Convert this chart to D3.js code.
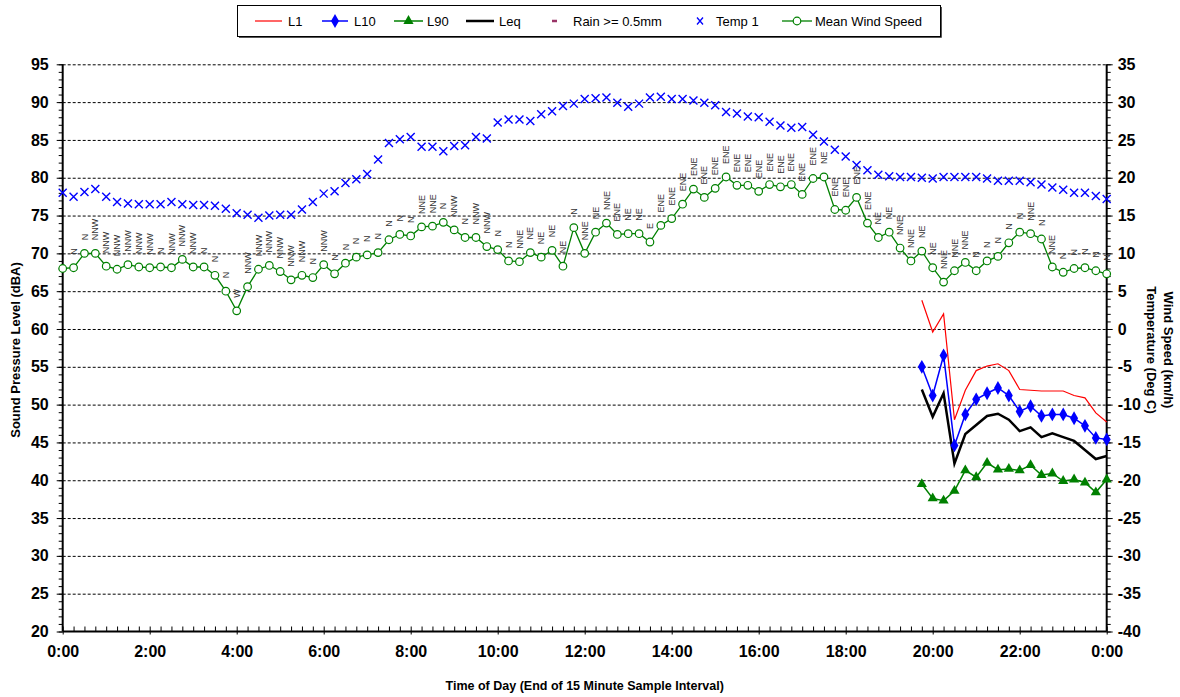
<!DOCTYPE html>
<html>
<head>
<meta charset="utf-8">
<script src="https://cdn.jsdelivr.net/npm/d3@7"></script>
<style>
  body { margin: 0; background: #fff; }
  text { font-family: "Liberation Sans", Arial, sans-serif; }
</style>
</head>
<body>
<svg id="chart" width="1180" height="697"></svg>
<script>
// sample ends, minutes after midnight (every 15 min, 0:00 to 24:00)
const sampleMinutes = d3.range(0, 1441, 15);

// temperature, deg C (right axis)
const temp1 = [
  18.0, 17.5, 18.1, 18.5, 17.5, 16.8, 16.6, 16.5, 16.5, 16.5, 16.8, 16.5, 16.4, 16.4, 16.3, 15.9,
  15.3, 15.1, 14.7, 15.0, 15.1, 15.1, 15.8, 16.8, 17.9, 18.2, 19.3, 19.8, 20.5, 22.4, 24.6, 25.1,
  25.4, 24.1, 24.1, 23.5, 24.2, 24.3, 25.4, 25.2, 27.3, 27.7, 27.7, 27.5, 28.4, 28.8, 29.5, 29.8,
  30.4, 30.5, 30.6, 29.9, 29.4, 29.8, 30.6, 30.7, 30.4, 30.4, 30.2, 29.9, 29.6, 28.7, 28.5, 28.1,
  28.0, 27.4, 26.9, 26.6, 26.7, 25.7, 24.8, 23.7, 22.8, 21.7, 21.0, 20.4, 20.2, 20.1, 20.1, 20.0,
  19.9, 20.1, 20.1, 20.1, 20.1, 19.9, 19.6, 19.6, 19.6, 19.4, 19.1, 18.7, 18.4, 18.0, 18.0, 17.6,
  17.2
];

// mean wind speed, km/h (right axis)
const windSpeed = [
  8.0, 8.1, 10.0, 10.0, 8.3, 7.9, 8.5, 8.2, 8.1, 8.2, 8.1, 9.2, 8.2, 8.2, 7.1, 5.0,
  2.4, 5.6, 7.9, 8.4, 7.6, 6.5, 7.1, 6.8, 8.5, 7.3, 8.7, 9.5, 9.8, 10.1, 11.8, 12.5,
  12.3, 13.5, 13.6, 14.1, 13.1, 12.1, 12.1, 10.9, 10.5, 9.0, 8.9, 10.1, 9.5, 10.4, 8.3, 13.4,
  10.0, 12.8, 14.0, 12.5, 12.6, 12.6, 11.5, 13.7, 14.6, 16.5, 18.5, 17.4, 18.6, 20.1, 19.0, 19.0,
  18.2, 19.1, 18.8, 19.1, 17.8, 19.9, 20.1, 15.8, 15.7, 17.4, 14.0, 12.1, 12.8, 10.7, 9.0, 10.3,
  8.1, 6.2, 7.7, 8.8, 7.7, 9.0, 9.6, 11.4, 12.8, 12.6, 11.9, 8.2, 7.5, 8.0, 8.1, 7.7,
  7.3
];

// wind direction labels
const windDir = [
  "", "N", "N", "NNW", "NNW", "NNW", "NNW", "NNW", "NNW", "N", "NNW", "NNW", "NNW", "N", "N", "N",
  "W", "NNW", "NNW", "NNW", "NNW", "NNW", "NNW", "N", "NNW", "N", "N", "N", "N", "N", "N", "N",
  "N", "NNE", "NNE", "N", "NNW", "N", "NNW", "NNW", "N", "N", "NNE", "NE", "NE", "NE", "NE", "N",
  "NNE", "NE", "NNE", "ENE", "NE", "NE", "E", "ENE", "ENE", "ENE", "ENE", "ENE", "ENE", "ENE", "ENE", "ENE",
  "ENE", "ENE", "ENE", "ENE", "ENE", "ENE", "NE", "ENE", "ENE", "ENE", "ENE", "NE", "NE", "NNE", "NNE", "NE",
  "NE", "NNE", "NNE", "NNE", "N", "N", "N", "N", "N", "NNE", "N", "NNE", "N", "N", "N", "N",
  "N"
];

// noise levels, dBA (left axis) - only logged from 19:45
const noiseStart = 79;
const L1  = [63.8, 59.6, 62.0, 48.0, 51.9, 54.5, 55.1, 55.4, 54.5, 52.0, 51.9, 51.8, 51.8, 51.8, 51.2, 50.9, 48.9, 47.7];
const L10 = [55.0, 51.2, 56.5, 44.6, 48.7, 50.7, 51.5, 52.2, 51.2, 49.1, 49.8, 48.5, 48.7, 48.7, 48.2, 47.2, 45.6, 45.4];
const L90 = [39.5, 37.6, 37.3, 38.6, 41.3, 40.4, 42.3, 41.4, 41.5, 41.3, 42.0, 40.7, 40.9, 39.9, 40.1, 39.7, 38.4, 40.1];
const Leq = [52.0, 48.4, 51.5, 42.2, 46.1, 47.3, 48.5, 48.8, 48.0, 46.5, 47.0, 45.7, 46.2, 45.7, 45.2, 44.0, 42.8, 43.2];

const leftTicks = d3.range(20, 96, 5);
const rightTicks = d3.range(-40, 36, 5);
const timeTicks = d3.range(0, 1441, 120);

const margin = {left: 62.7, right: 1106.7, top: 64.3, bottom: 631.5};
const svg = d3.select("#chart");

const x = d3.scaleLinear([0, 1440], [margin.left, margin.right]);
const yL = d3.scaleLinear([20, 95], [margin.bottom, margin.top]);
const yR = d3.scaleLinear([-40, 35], [margin.bottom, margin.top]);

const boldLabels = g => g.selectAll("text")
  .attr("font-size", 16).attr("font-weight", "bold").attr("fill", "#000");

// gridlines
svg.append("g")
  .attr("transform", `translate(${margin.left},0)`)
  .call(d3.axisLeft(yL).tickValues(d3.range(25, 96, 5)).tickSize(-(margin.right - margin.left)).tickFormat(""))
  .call(g => g.select(".domain").remove())
  .call(g => g.selectAll(".tick line").attr("stroke", "#000").attr("stroke-dasharray", "3,2"));

// left axis
svg.append("g")
  .attr("transform", `translate(${margin.left},0)`)
  .call(d3.axisLeft(yL).tickValues(d3.range(20, 96, 1)).tickSize(4).tickFormat(""))
  .call(g => g.select(".domain").attr("stroke-width", 2).attr("d", `M0,${margin.top}V${margin.bottom}`));
svg.append("g")
  .attr("transform", `translate(${margin.left},0)`)
  .call(d3.axisLeft(yL).tickValues(leftTicks).tickSize(6).tickPadding(8).tickFormat(d => String(d)))
  .call(g => g.select(".domain").remove())
  .call(boldLabels);

// right axis
svg.append("g")
  .attr("transform", `translate(${margin.right},0)`)
  .call(d3.axisRight(yR).tickValues(d3.range(-40, 36, 1)).tickSize(4).tickFormat(""))
  .call(g => g.select(".domain").attr("stroke-width", 2).attr("d", `M0,${margin.top}V${margin.bottom}`));
svg.append("g")
  .attr("transform", `translate(${margin.right},0)`)
  .call(d3.axisRight(yR).tickValues(rightTicks).tickSize(6).tickPadding(5).tickFormat(d => String(d)))
  .call(g => g.select(".domain").remove())
  .call(boldLabels);

// bottom axis, inward minor ticks every 15 min
svg.append("g")
  .attr("transform", `translate(0,${margin.bottom})`)
  .call(d3.axisBottom(x).tickValues(sampleMinutes).tickSize(-5).tickFormat(""))
  .call(g => g.select(".domain").attr("stroke-width", 2).attr("d", `M${margin.left},0H${margin.right}`));
svg.append("g")
  .attr("transform", `translate(0,${margin.bottom})`)
  .call(d3.axisBottom(x).tickValues(timeTicks).tickSize(3).tickPadding(11)
    .tickFormat(m => `${(m / 60) % 24}:00`))
  .call(g => g.select(".domain").remove())
  .call(boldLabels);

// axis titles
svg.append("text")
  .attr("transform", `translate(20,350) rotate(-90)`)
  .attr("text-anchor", "middle").attr("font-size", 13).attr("font-weight", "bold")
  .text("Sound Pressure Level (dBA)");
svg.append("text")
  .attr("transform", `translate(1164,350) rotate(90)`)
  .attr("text-anchor", "middle").attr("font-size", 13).attr("font-weight", "bold")
  .text("Wind Speed (km/h)");
svg.append("text")
  .attr("transform", `translate(1147,350) rotate(90)`)
  .attr("text-anchor", "middle").attr("font-size", 13).attr("font-weight", "bold")
  .text("Temperature (Deg C)");
svg.append("text")
  .attr("x", (margin.left + margin.right) / 2).attr("y", 690)
  .attr("text-anchor", "middle").attr("font-size", 12.5).attr("font-weight", "bold")
  .text("Time of Day (End of 15 Minute Sample Interval)");

// noise series
const noiseRows = (arr) => arr.map((v, k) => ({m: sampleMinutes[noiseStart + k], v}));
const lineL = d3.line().x(d => x(d.m)).y(d => yL(d.v));

svg.append("path").datum(noiseRows(L1)).attr("d", lineL)
  .attr("fill", "none").attr("stroke", "#ff0000").attr("stroke-width", 1.2);
svg.append("path").datum(noiseRows(Leq)).attr("d", lineL)
  .attr("fill", "none").attr("stroke", "#000").attr("stroke-width", 2.5);
svg.append("path").datum(noiseRows(L10)).attr("d", lineL)
  .attr("fill", "none").attr("stroke", "#0000ff").attr("stroke-width", 1.5);
svg.append("path").datum(noiseRows(L90)).attr("d", lineL)
  .attr("fill", "none").attr("stroke", "#008000").attr("stroke-width", 1.5);

svg.append("g").selectAll("path").data(noiseRows(L10)).join("path")
  .attr("transform", d => `translate(${x(d.m)},${yL(d.v)})`)
  .attr("d", d3.symbol(d3.symbolDiamond, 55))
  .attr("fill", "#0000ff");
svg.append("g").selectAll("path").data(noiseRows(L90)).join("path")
  .attr("transform", d => `translate(${x(d.m)},${yL(d.v)})`)
  .attr("d", d3.symbol(d3.symbolTriangle, 45))
  .attr("fill", "#008000");

// temperature crosses
svg.append("g").selectAll("path").data(temp1).join("path")
  .attr("transform", (d, i) => `translate(${x(sampleMinutes[i])},${yR(d)})`)
  .attr("d", "M-4,-4L4,4M-4,4L4,-4")
  .attr("stroke", "#0000ff").attr("stroke-width", 1.4).attr("fill", "none");

// wind speed
svg.append("path").datum(windSpeed)
  .attr("d", d3.line().x((d, i) => x(sampleMinutes[i])).y(d => yR(d)))
  .attr("fill", "none").attr("stroke", "#008000").attr("stroke-width", 1.3);
svg.append("g").selectAll("circle").data(windSpeed).join("circle")
  .attr("cx", (d, i) => x(sampleMinutes[i])).attr("cy", d => yR(d)).attr("r", 3.8)
  .attr("fill", "#fff").attr("stroke", "#008000").attr("stroke-width", 1.2);

// wind direction labels
svg.append("g").selectAll("text").data(windDir).join("text")
  .attr("transform", (d, i) => `translate(${x(sampleMinutes[i])},${yR(windSpeed[i]) - 13}) rotate(-90)`)
  .attr("dy", "0.35em").attr("text-anchor", "start")
  .attr("font-size", 9).attr("fill", "#333")
  .text(d => d);

// legend
const legend = svg.append("g");
legend.append("rect").attr("x", 237.5).attr("y", 5.5).attr("width", 703).attr("height", 31)
  .attr("fill", "#fff").attr("stroke", "#000").attr("stroke-width", 1);
legend.append("path").attr("d", "M239,37.5H941.5V7").attr("stroke", "#555").attr("stroke-width", 1).attr("fill", "none");
const ly = 21;
const legendItems = [
  {name: "L1", x1: 255, x2: 282, tx: 288, stroke: "#ff0000", w: 1.2},
  {name: "L10", x1: 322, x2: 348, tx: 354, stroke: "#0000ff", w: 1.5, sym: d3.symbolDiamond, size: 55},
  {name: "L90", x1: 394, x2: 423, tx: 427, stroke: "#008000", w: 1.5, sym: d3.symbolTriangle, size: 45},
  {name: "Leq", x1: 466, x2: 494, tx: 499, stroke: "#000", w: 2.5},
  {name: "Rain >= 0.5mm", tx: 573, rain: true},
  {name: "Temp 1", tx: 716, cross: true},
  {name: "Mean Wind Speed", x1: 782, x2: 812, tx: 815, stroke: "#008000", w: 1.3, circle: true}
];
legendItems.forEach(it => {
  if (it.x1 !== undefined) {
    legend.append("line").attr("x1", it.x1).attr("x2", it.x2).attr("y1", ly).attr("y2", ly)
      .attr("stroke", it.stroke).attr("stroke-width", it.w);
  }
  const cx = it.x1 !== undefined ? (it.x1 + it.x2) / 2 : 0;
  if (it.sym) {
    legend.append("path").attr("transform", `translate(${cx},${ly})`)
      .attr("d", d3.symbol(it.sym, it.size)).attr("fill", it.stroke);
  }
  if (it.circle) {
    legend.append("circle").attr("cx", cx).attr("cy", ly).attr("r", 3.8)
      .attr("fill", "#fff").attr("stroke", it.stroke).attr("stroke-width", 1.2);
  }
  if (it.rain) {
    legend.append("line").attr("x1", 552).attr("x2", 557).attr("y1", ly).attr("y2", ly)
      .attr("stroke", "#993366").attr("stroke-width", 2.5);
  }
  if (it.cross) {
    legend.append("path").attr("transform", `translate(700,${ly})`)
      .attr("d", "M-3,-3.5L3,3.5M-3,3.5L3,-3.5")
      .attr("stroke", "#0000ff").attr("stroke-width", 1.3).attr("fill", "none");
  }
  legend.append("text").attr("x", it.tx).attr("y", ly).attr("dy", "0.35em")
    .attr("font-size", 13).attr("fill", "#000").text(it.name);
});
</script>
</body>
</html>
